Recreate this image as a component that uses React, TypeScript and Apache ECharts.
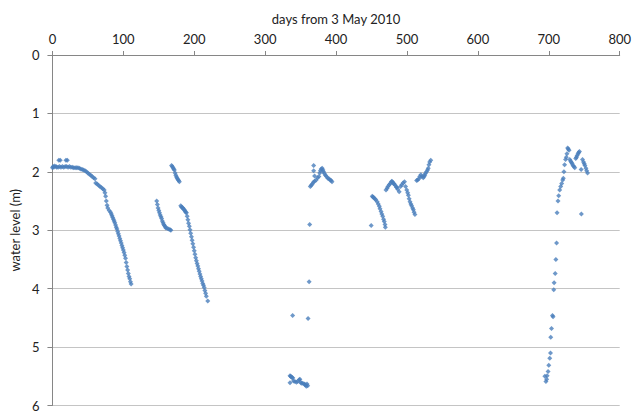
import React, { useEffect, useRef } from "react";
import * as echarts from "echarts";

const xTicks = [0, 100, 200, 300, 400, 500, 600, 700, 800];
const yTicks = [0, 1, 2, 3, 4, 5, 6];
const xTitle = "days from 3 May 2010";
const yTitle = "water level (m)";

const seg1: number[][] = [
  [0, 1.93], [1, 1.91], [2, 1.92], [3, 1.9], [5, 1.91], [6, 1.92], [8, 1.92], [9, 1.8], [11, 1.8],
  [10, 1.91], [12, 1.92], [14, 1.91], [16, 1.92], [18, 1.91], [19, 1.8], [21, 1.8], [20, 1.91],
  [22, 1.92], [24, 1.91], [26, 1.92], [28, 1.92], [30, 1.93], [32, 1.93], [34, 1.93], [36, 1.93],
  [38, 1.94], [40, 1.95], [42, 1.96], [44, 1.97], [46, 1.98], [48, 2.0], [50, 2.02], [52, 2.04],
  [54, 2.06], [56, 2.08], [58, 2.1], [60, 2.12], [61, 2.19], [63, 2.21], [65, 2.23], [67, 2.25],
  [69, 2.27], [71, 2.29], [73, 2.31], [74, 2.36], [75, 2.42], [76, 2.5], [77, 2.57], [78, 2.62],
  [80, 2.66], [82, 2.69], [83, 2.72], [84, 2.75], [85, 2.78], [86, 2.81], [87, 2.84], [88, 2.87],
  [89, 2.91], [90, 2.95], [91, 2.98], [92, 3.02], [93, 3.06], [94, 3.1], [95, 3.14], [96, 3.18],
  [97, 3.22], [98, 3.26], [99, 3.3], [100, 3.34], [101, 3.38], [102, 3.43], [103, 3.48], [104, 3.55],
  [105, 3.62], [106, 3.68], [107, 3.74], [108, 3.79], [109, 3.83], [110, 3.88], [111, 3.92],
];

const seg2: number[][] = [
  [147, 2.5], [148, 2.56], [149, 2.62], [150, 2.66], [151, 2.7], [152, 2.74], [153, 2.77], [154, 2.8],
  [155, 2.84], [156, 2.87], [157, 2.9], [158, 2.92], [159, 2.94], [160, 2.96], [162, 2.97], [164, 2.98],
  [166, 2.99], [167, 3.0],
  [168, 1.89], [169, 1.91], [170, 1.93], [171, 1.95], [172, 1.97], [173, 2.02], [174, 2.06], [175, 2.09],
  [176, 2.11], [177, 2.13], [178, 2.15], [179, 2.17],
  [181, 2.58], [182, 2.6], [183, 2.61], [184, 2.62], [185, 2.64], [186, 2.65], [187, 2.67], [188, 2.69],
  [189, 2.7], [190, 2.76], [191, 2.82], [192, 2.88], [193, 2.93], [194, 2.99], [195, 3.05], [196, 3.11],
  [197, 3.17], [198, 3.23], [199, 3.29], [200, 3.35], [201, 3.41], [202, 3.47], [203, 3.52], [204, 3.57],
  [205, 3.61], [206, 3.66], [207, 3.7], [208, 3.75], [209, 3.79], [210, 3.83], [211, 3.87], [212, 3.91],
  [213, 3.94], [214, 3.98], [215, 4.03], [216, 4.08], [217, 4.13], [219, 4.21],
];

const seg3: number[][] = [
  [335, 5.49], [336, 5.5], [337, 5.51], [338, 5.52], [339, 5.53], [335, 5.61], [340, 5.58], [342, 5.59],
  [344, 5.6], [346, 5.59], [348, 5.56], [349, 5.55], [350, 5.6], [351, 5.62], [353, 5.62], [355, 5.63],
  [356, 5.64], [357, 5.65], [358, 5.67], [359, 5.63], [360, 5.66],
  [338.7, 4.46], [360.5, 4.51], [362, 3.88], [362.8, 2.9],
  [363.7, 2.25], [365, 2.23], [366.5, 2.21], [368, 2.18], [369.7, 2.16], [372, 2.14], [374, 2.1],
  [375.8, 2.08], [377, 2.02], [378, 1.98], [379, 1.95], [380.4, 1.94], [381.5, 1.97], [382.3, 2.0],
  [383.5, 2.03], [385, 2.06], [386.5, 2.08], [388.3, 2.11], [390, 2.12], [391.5, 2.14], [393, 2.15],
  [394.3, 2.17], [368.4, 1.89], [368.4, 1.98], [369.7, 2.07],
];

const seg4: number[][] = [
  [449.5, 2.92], [451, 2.42], [452, 2.43], [453, 2.44], [454.7, 2.46], [456, 2.48], [458, 2.51],
  [459.5, 2.55], [461, 2.59], [462, 2.63], [463.5, 2.68], [464.5, 2.72], [465.8, 2.76], [467, 2.81],
  [468, 2.85], [469, 2.9], [469.5, 2.95],
  [470.4, 2.31], [472, 2.28], [473.2, 2.25], [475, 2.22], [476.4, 2.2], [478, 2.17], [478.8, 2.16],
  [480, 2.18], [481, 2.2], [482, 2.21], [483.4, 2.23], [485, 2.26], [485.7, 2.27], [487, 2.3], [489, 2.34],
  [491, 2.25], [492.7, 2.22], [494.5, 2.19], [496.5, 2.17], [498, 2.25], [499.7, 2.31], [501, 2.36],
  [502, 2.4], [503, 2.46], [504.3, 2.51], [505.5, 2.55], [506.6, 2.58], [508, 2.62], [509, 2.65],
  [510, 2.69], [511.2, 2.73],
  [513.6, 2.15], [515, 2.14], [516.8, 2.12], [518, 2.08], [519.6, 2.05], [521, 2.08], [523, 2.1],
  [524, 2.08], [525, 2.06], [526, 2.03], [527.5, 2.0], [529, 1.97], [530, 1.94], [531, 1.88], [532, 1.83],
  [533.5, 1.8],
];

const seg5: number[][] = [
  [694.5, 5.5], [696, 5.59], [697, 5.55], [697.7, 5.49], [699, 5.42], [700, 5.31], [701.4, 5.19],
  [702.4, 5.1], [702.8, 4.83], [703.8, 4.68], [705.2, 4.46], [706, 4.48], [707, 4.02], [707.5, 3.9],
  [709, 3.74], [710, 3.5], [711, 3.22], [711.7, 2.7], [713, 2.5], [714, 2.41], [715.4, 2.31],
  [716.8, 2.25], [718.2, 2.2], [719.6, 2.14], [720.5, 2.11], [721.4, 2.0], [722.3, 1.88], [723.7, 1.79],
  [724.7, 1.75], [725.6, 1.69], [726.6, 1.59], [727.5, 1.61], [728.6, 1.63], [729.6, 1.79], [731, 1.82],
  [732, 1.84], [733, 1.86], [734.2, 1.89], [735.5, 1.91], [736.6, 1.93], [738, 1.77], [739, 1.75],
  [740, 1.72], [741.3, 1.69], [742.2, 1.67], [743.2, 1.65], [745.6, 1.96], [746, 2.72], [747.6, 1.79],
  [749, 1.83], [750, 1.86], [751, 1.89], [752.4, 1.94], [753.5, 1.98], [754.7, 2.02],
];

const FONT = "Lato, 'Open Sans', sans-serif";

export default function App() {
  const ref = useRef<HTMLDivElement>(null);
  useEffect(() => {
    if (!ref.current) return;
    const chart = echarts.init(ref.current, undefined, { renderer: "svg" });
    chart.setOption({
      animation: false,
      backgroundColor: "#ffffff",
      textStyle: { fontFamily: FONT },
      grid: { left: 46, right: 13, top: 55, bottom: 3, containLabel: false },
      xAxis: {
        type: "value",
        position: "top",
        min: xTicks[0],
        max: xTicks[xTicks.length - 1],
        interval: 100,
        name: xTitle,
        nameLocation: "middle",
        nameGap: 30,
        nameTextStyle: { fontFamily: FONT, fontSize: 13, color: "#222" },
        axisLine: { show: true, onZero: false, lineStyle: { color: "#868686", width: 1 } },
        axisTick: { show: true, inside: false, length: 4, lineStyle: { color: "#868686" } },
        axisLabel: { fontFamily: FONT, fontSize: 13, color: "#222", margin: 10 },
        splitLine: { show: false },
      },
      yAxis: {
        type: "value",
        inverse: true,
        min: yTicks[0],
        max: yTicks[yTicks.length - 1],
        interval: 1,
        name: yTitle,
        nameLocation: "middle",
        nameRotate: 90,
        nameGap: 23,
        nameTextStyle: { fontFamily: FONT, fontSize: 13, color: "#222" },
        axisLine: { show: true, onZero: false, lineStyle: { color: "#868686", width: 1 } },
        axisTick: { show: true, inside: false, length: 5, lineStyle: { color: "#868686" } },
        axisLabel: { fontFamily: FONT, fontSize: 13, color: "#222", margin: 13 },
        splitLine: { show: true, lineStyle: { color: "#c4c4c4", width: 1 } },
      },
      series: [
        {
          type: "scatter",
          symbol: "diamond",
          symbolSize: 5,
          itemStyle: { color: "#4a7ebb" },
          data: [...seg1, ...seg2, ...seg3, ...seg4, ...seg5],
        },
      ],
    });
    return () => chart.dispose();
  }, []);
  return (
    <div
      ref={ref}
      style={{ position: "fixed", left: 0, top: 0, width: 634, height: 412 }}
    />
  );
}
